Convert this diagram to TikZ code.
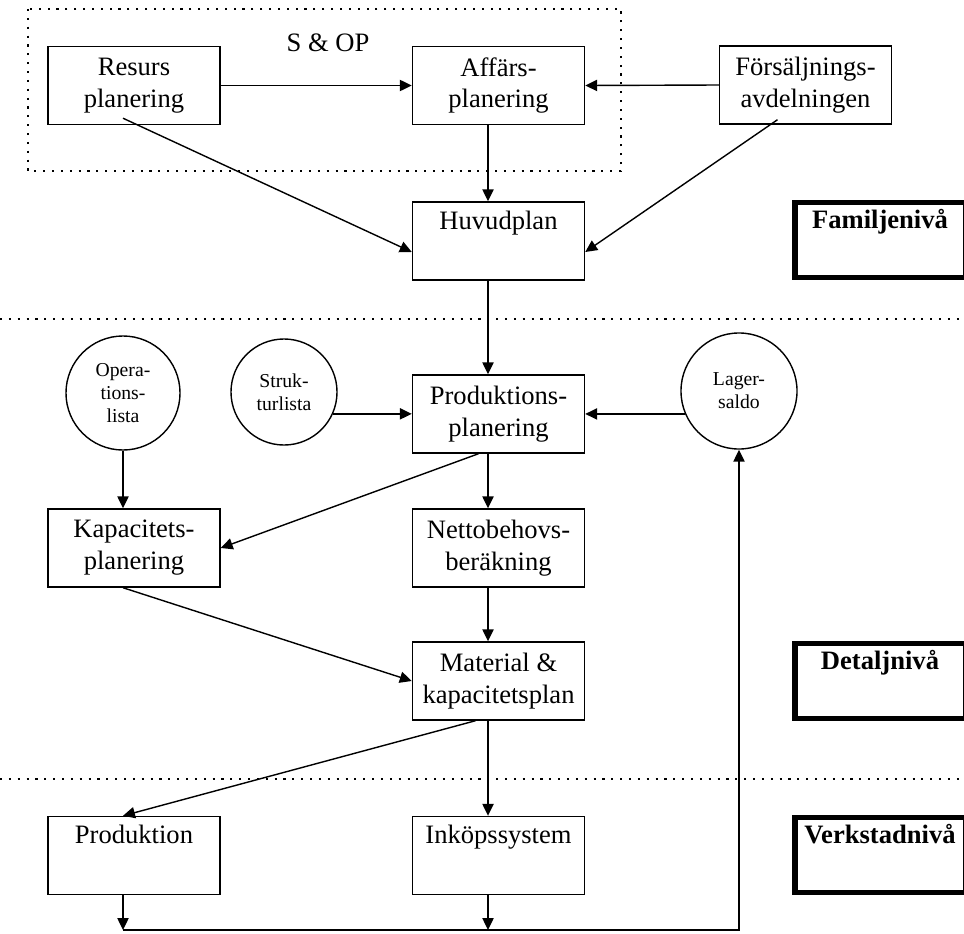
\documentclass[tikz,border=0pt]{standalone}
\usepackage{fontspec}
\setmainfont{Liberation Serif}
\usetikzlibrary{arrows.meta,calc}

\newcommand{\storfont}{\fontsize{18.9}{22.7}\selectfont}
\newcommand{\litenfont}{\fontsize{14}{16.5}\selectfont}

\tikzset{
  ruta/.style={draw, line width=1pt, minimum width=4.3cm, minimum height=1.95cm,
    inner sep=0pt, align=center, font=\storfont},
  niva/.style={draw, line width=3.6pt, minimum width=4.25cm, minimum height=1.875cm,
    inner sep=0pt, align=center, font=\storfont\bfseries},
  cirkel/.style={draw, circle, line width=1pt, inner sep=0pt, align=center, font=\litenfont},
  pil/.style={->, line width=1pt},
  streckad/.style={line width=1.5pt, dash pattern=on 1.5pt off 4.8pt},
}

\begin{document}
\begin{tikzpicture}[x=0.025cm, y=-0.025cm, >={Triangle[length=8.5pt,width=8pt]}]

\useasboundingbox (0,0) rectangle (964,933);
\clip (0,0) rectangle (964,933);

% S & OP
\draw[streckad] (28,9) rectangle (621,171);
\node[anchor=base, font=\storfont] (sop) at (328,52) {S \& OP};

% Nivågränser
\draw[streckad] (0,319) -- (964,319);
\draw[streckad] (0,779) -- (964,779);

% Spalter för pilarna
\coordinate (vspalt) at (123,0);
\coordinate (mspalt) at (488,0);
\coordinate (botten) at (0,930);

% Rutor
\node[ruta] (resurs) at (134,85.5) {Resurs\\planering};
\node[ruta] (affars) at (498.5,85.5) {Affärs-\\planering};
\node[ruta] (forsalj) at (805.5,85) {Försäljnings-\\avdelningen};
\node[ruta] (huvud) at (498.5,241) {Huvudplan\\ \strut};
\node[ruta] (prodplan) at (498.5,414) {Produktions-\\planering};
\node[ruta] (kapacitet) at (134,548) {Kapacitets-\\planering};
\node[ruta] (netto) at (498.5,548) {Nettobehovs-\\beräkning};
\node[ruta] (material) at (498.5,681) {Material \&\\kapacitetsplan};
\node[ruta] (produktion) at (134,855.5) {Produktion\\ \strut};
\node[ruta] (inkop) at (498.5,855.5) {Inköpssystem\\ \strut};

% Cirklar
\node[cirkel, minimum size=2.85cm] (oper) at (123,393) {Opera-\\tions-\\lista};
\node[cirkel, minimum size=2.65cm] (struktur) at (284,392) {Struk-\\turlista};
\node[cirkel, minimum size=2.9cm] (lager) at (739,391) {Lager-\\saldo};

% Nivåer
\node[niva] (familj) at (880,240) {Familjenivå\\ \strut};
\node[niva] (detalj) at (880,681) {Detaljnivå\\ \strut};
\node[niva] (verkstad) at (880,855) {Verkstadnivå\\ \strut};

% Pilar
\draw[pil] (resurs.east) -- (affars.west);
\draw[pil] (forsalj.west) -- (affars.east);
\draw[pil] ($(resurs.south -| vspalt)+(0,-7)$) -- ($(huvud.west)+(0,11)$);
\draw[pil] ($(forsalj.south)+(-28,-5)$) -- ($(huvud.east)+(0,11)$);
\draw[pil] (affars.south -| mspalt) -- (huvud.north -| mspalt);
\draw[pil] (huvud.south -| mspalt) -- (prodplan.north -| mspalt);
\draw[pil] (struktur.-24) -- (prodplan.west |- struktur.-24);
\draw[pil] (lager.203) -- (prodplan.east |- lager.203);
\draw[pil] (oper.south) -- (kapacitet.north -| oper.south);
\draw[pil] ($(prodplan.south)+(-20,0)$) -- (kapacitet.east);
\draw[pil] (prodplan.south -| mspalt) -- (netto.north -| mspalt);
\draw[pil] (kapacitet.south -| vspalt) -- (material.west);
\draw[pil] (netto.south -| mspalt) -- (material.north -| mspalt);
\draw[pil] ($(material.south)+(-23,0)$) -- (produktion.north -| vspalt);
\draw[pil] (material.south -| mspalt) -- (inkop.north -| mspalt);
\draw[pil] (produktion.south -| vspalt) -- (botten -| vspalt);
\draw[pil] (inkop.south -| mspalt) -- (botten -| mspalt);
\draw[pil] (botten -| vspalt) -- (botten -| lager.south) -- (lager.south);

\end{tikzpicture}
\end{document}
